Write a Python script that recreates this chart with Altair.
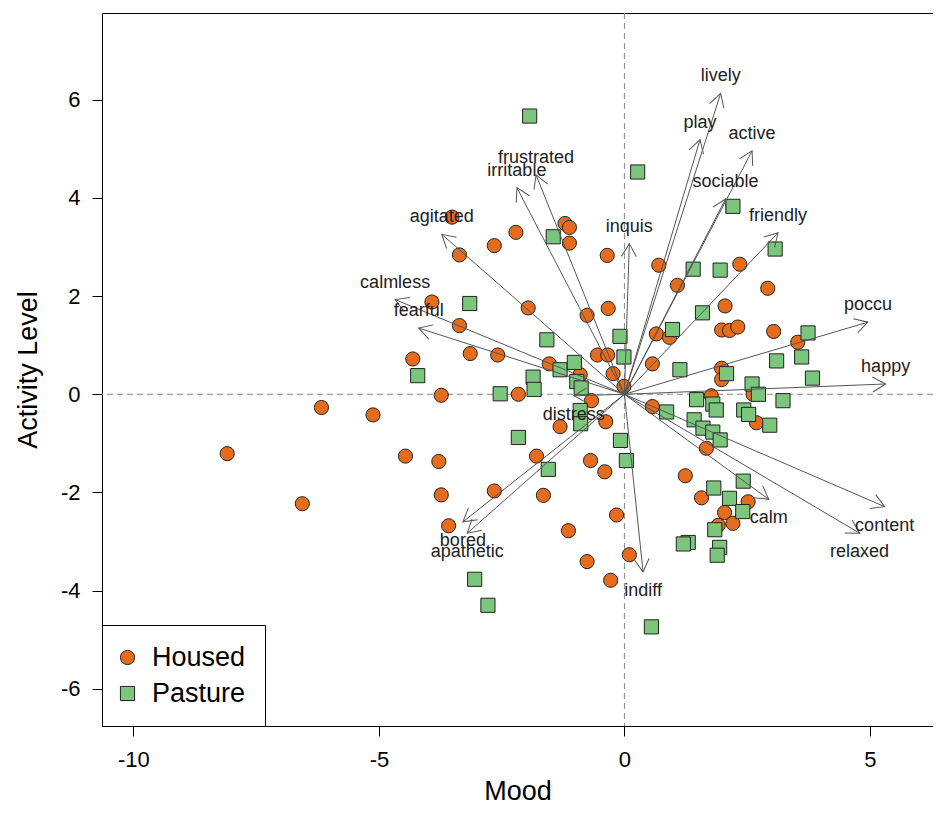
import altair as alt
import pandas as pd
import numpy as np

# ---- Data (Mood, Activity Level) ----
housed_x = [-8.09, -6.56, -6.17, -5.12, -4.46, -3.78, -3.73, -3.73, -3.58, -4.31,
            -2.65, -2.16, -1.31, -1.79, -1.65, -1.14, -0.67, -0.38, -0.69, -0.40,
            -0.16, 0.10, -0.76, -0.28, 0.57, 1.24, 1.57, 1.67, 2.04, 2.52,
            1.91, 2.21, -3.51, -2.21, -2.65, -3.36, -1.21, -1.12, -1.12, -3.92,
            -1.96, -3.36, -3.14, -2.58, -1.53, -0.35, 0.70, 1.08, 2.35, 2.92,
            2.05, 1.98, 2.14, 2.31, 3.04, 3.53, -0.76, -0.33, 0.65, 0.92,
            -0.55, -0.34, 0.57, -0.23, -0.01, -0.90, 1.98, 1.98, 1.77, 2.62, 2.69]
housed_y = [-1.21, -2.23, -0.27, -0.42, -1.26, -1.37, -0.02, -2.05, -2.68, 0.72,
            -1.97, 0.00, -0.66, -1.26, -2.06, -2.78, -0.13, -0.56, -1.35, -1.58,
            -2.46, -3.27, -3.41, -3.79, -0.25, -1.66, -2.11, -1.10, -2.41, -2.19,
            -2.67, -2.63, 3.61, 3.30, 3.03, 2.84, 3.48, 3.40, 3.08, 1.88,
            1.76, 1.40, 0.83, 0.80, 0.62, 2.83, 2.63, 2.22, 2.65, 2.16,
            1.80, 1.31, 1.30, 1.37, 1.28, 1.06, 1.61, 1.75, 1.23, 1.16,
            0.80, 0.80, 0.62, 0.42, 0.16, 0.40, 0.53, 0.30, -0.03, 0.00, -0.58]

pasture_x = [-4.21, -2.53, -2.16, -3.05, -2.78, -1.86, -1.84, -0.90, -0.89, -1.55,
             -0.08, 0.04, 0.55, 0.86, 1.82, 1.30, 1.20, 1.47, 1.80, 1.87,
             1.42, 1.60, 1.80, 1.95, 2.42, 2.14, 2.41, 1.84, 1.94, 1.89,
             2.60, 2.73, 3.23, 2.43, 2.53, 2.96, -1.93, 0.27, 2.21, 3.07,
             1.40, 1.95, 1.59, 3.74, 3.10, 3.61, 3.83, -0.09, 0.98, -1.45,
             -3.15, -1.58, -1.31, -1.02, 1.13, 2.08, -0.01, -0.97, -0.88]
pasture_y = [0.38, 0.01, -0.88, -3.77, -4.30, 0.35, 0.10, -0.33, -0.60, -1.53,
             -0.94, -1.35, -4.74, -0.36, -1.91, -3.02, -3.05, -0.11, -0.20, -0.32,
             -0.52, -0.69, -0.77, -0.93, -1.77, -2.12, -2.39, -2.76, -3.12, -3.28,
             0.21, 0.00, -0.13, -0.32, -0.41, -0.63, 5.67, 4.53, 3.83, 2.96,
             2.55, 2.53, 1.66, 1.25, 0.68, 0.76, 0.33, 1.18, 1.32, 3.21,
             1.85, 1.11, 0.50, 0.65, 0.50, 0.42, 0.76, 0.26, 0.13]

var_names = ["lively", "play", "active", "sociable", "friendly", "inquis",
             "frustrated", "irritable", "agitated", "calmless", "fearful",
             "poccu", "happy", "content", "relaxed", "calm", "indiff",
             "bored", "apathetic", "distress"]
var_x = [1.96, 1.54, 2.60, 2.06, 3.13, 0.10, -1.80, -2.19, -3.72, -4.67, -4.19,
         4.96, 5.32, 5.30, 4.79, 2.94, 0.38, -3.29, -3.20, -1.03]
var_y = [6.13, 5.19, 4.96, 3.98, 3.29, 3.07, 4.47, 4.21, 3.26, 1.93, 1.35,
         1.47, 0.21, -2.29, -2.83, -2.14, -3.62, -2.60, -2.83, -0.03]

groups = ["Housed", "Pasture"]
x_ticks = [-10, -5, 0, 5]
y_ticks = [-6, -4, -2, 0, 2, 4, 6]

ORANGE = "#E46C1C"
GREEN = "#7CC57C"
OUTLINE = "#222"
FONT = "Liberation Sans"

# ---- Tables ----
pts = pd.DataFrame({
    "x": housed_x + pasture_x,
    "y": housed_y + pasture_y,
    "group": [groups[0]] * len(housed_x) + [groups[1]] * len(pasture_x),
})
arr = pd.DataFrame({"name": var_names, "x": var_x, "y": var_y})
arr["ox"] = 0.0
arr["oy"] = 0.0
arr["ang"] = (np.degrees(np.arctan2(arr["x"], arr["y"])) + 360.0) % 360.0
zero = pd.DataFrame({"zero": [0.0]})

xs = alt.Scale(domain=[-10.64, 6.285], nice=False, zero=False)
ys = alt.Scale(domain=[-6.76, 7.77], nice=False, zero=False)

common_axis = dict(tickSize=10, tickColor="#000", tickWidth=1, domain=False, grid=False,
                   labelFontSize=22, labelColor="#000", titleFontSize=27,
                   titleFontWeight="normal", titleColor="#000", labelFlush=False,
                   labelExpr="'' + datum.value")
xax = alt.Axis(values=x_ticks, title="Mood", labelPadding=13, titlePadding=8, **common_axis)
yax = alt.Axis(values=y_ticks, title="Activity Level", labelPadding=12, titlePadding=18,
               labelAngle=0, **common_axis)


def X(f):
    return alt.X(f, type="quantitative", scale=xs, axis=xax)


def Y(f):
    return alt.Y(f, type="quantitative", scale=ys, axis=yax)


leg = alt.Legend(title=None, orient="bottom-left", offset=0, padding=19,
                 strokeColor="#000", fillColor="#fff", labelFontSize=27,
                 labelColor="#000", symbolSize=200, symbolStrokeWidth=1,
                 symbolOffset=-7, labelOffset=11, rowPadding=8, symbolOpacity=1)

vline = alt.Chart(zero).mark_rule(color="#888", strokeDash=[6, 4], strokeWidth=1).encode(x=X("zero"))
hline = alt.Chart(zero).mark_rule(color="#888", strokeDash=[6, 4], strokeWidth=1).encode(y=Y("zero"))

points = alt.Chart(pts).mark_point(filled=True, size=200, opacity=1, strokeWidth=1).encode(
    x=X("x"), y=Y("y"),
    color=alt.Color("group:N", scale=alt.Scale(domain=groups, range=[ORANGE, GREEN]), legend=leg),
    shape=alt.Shape("group:N", scale=alt.Scale(domain=groups, range=["circle", "square"]), legend=leg),
    stroke=alt.Stroke("group:N", scale=alt.Scale(domain=groups, range=[OUTLINE, OUTLINE]), legend=leg),
)

shafts = alt.Chart(arr).mark_rule(color="#555", strokeWidth=1).encode(
    x=X("ox"), y=Y("oy"), x2="x", y2="y")

heads = alt.Chart(arr).mark_point(shape="M -0.5 0.866 L 0 0 L 0.5 0.866", size=900,
                                  filled=False, opacity=1, color="#555", strokeWidth=1).encode(
    x=X("x"), y=Y("y"), angle=alt.Angle("ang:Q", scale=None))

lab_up = alt.Chart(arr).transform_filter("datum.y >= 0").mark_text(
    fontSize=18, color="#222", dy=-17, baseline="middle").encode(
    x=X("x"), y=Y("y"), text="name:N")
lab_dn = alt.Chart(arr).transform_filter("datum.y < 0").mark_text(
    fontSize=18, color="#222", dy=19, baseline="middle").encode(
    x=X("x"), y=Y("y"), text="name:N")

chart = alt.layer(vline, hline, points, shafts, heads, lab_up, lab_dn).properties(
    width=831, height=713,
    padding={"left": 94, "top": 5, "right": 0, "bottom": 77},
    autosize=alt.AutoSizeParams(type="none"),
).configure(font=FONT).configure_view(stroke="#000", strokeWidth=1)

chart.save("out.html", embed_options={"renderer": "svg", "actions": False})
